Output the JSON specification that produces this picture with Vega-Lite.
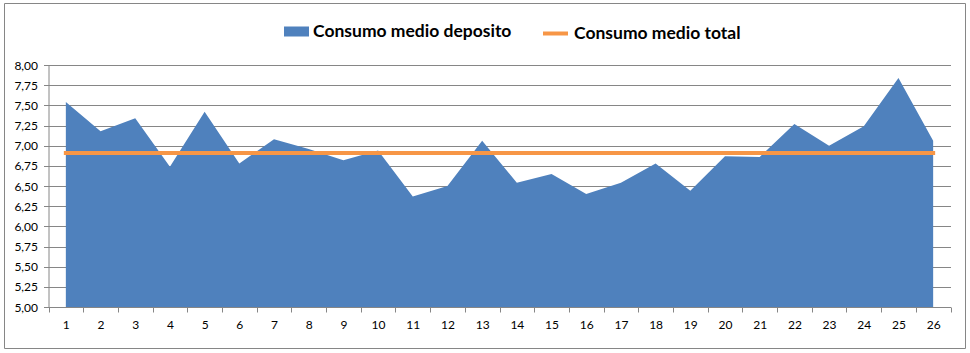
{
  "$schema": "https://vega.github.io/schema/vega-lite/v6.json",
  "autosize": {"type": "none"},
  "padding": {"left": 4, "top": 3, "right": 5, "bottom": 5},
  "width": 961,
  "height": 345,
  "background": "white",
  "data": {"values": [
    {"n": 1, "deposito": 7.54, "total": 6.91},
    {"n": 2, "deposito": 7.18, "total": 6.91},
    {"n": 3, "deposito": 7.34, "total": 6.91},
    {"n": 4, "deposito": 6.74, "total": 6.91},
    {"n": 5, "deposito": 7.42, "total": 6.91},
    {"n": 6, "deposito": 6.78, "total": 6.91},
    {"n": 7, "deposito": 7.08, "total": 6.91},
    {"n": 8, "deposito": 6.96, "total": 6.91},
    {"n": 9, "deposito": 6.82, "total": 6.91},
    {"n": 10, "deposito": 6.94, "total": 6.91},
    {"n": 11, "deposito": 6.37, "total": 6.91},
    {"n": 12, "deposito": 6.50, "total": 6.91},
    {"n": 13, "deposito": 7.06, "total": 6.91},
    {"n": 14, "deposito": 6.54, "total": 6.91},
    {"n": 15, "deposito": 6.65, "total": 6.91},
    {"n": 16, "deposito": 6.40, "total": 6.91},
    {"n": 17, "deposito": 6.54, "total": 6.91},
    {"n": 18, "deposito": 6.78, "total": 6.91},
    {"n": 19, "deposito": 6.44, "total": 6.91},
    {"n": 20, "deposito": 6.87, "total": 6.91},
    {"n": 21, "deposito": 6.86, "total": 6.91},
    {"n": 22, "deposito": 7.27, "total": 6.91},
    {"n": 23, "deposito": 7.00, "total": 6.91},
    {"n": 24, "deposito": 7.24, "total": 6.91},
    {"n": 25, "deposito": 7.84, "total": 6.91},
    {"n": 26, "deposito": 7.06, "total": 6.91}
  ]},
  "encoding": {
    "x": {
      "field": "n", "type": "ordinal", "bandPosition": 0.5,
      "scale": {"type": "band", "range": [44.5, 946.5], "paddingInner": 0, "paddingOuter": 0},
      "axis": {
        "title": null, "labelAngle": 0, "tickBand": "extent", "offset": -41,
        "domainColor": "#868686", "tickColor": "#868686", "tickSize": 5,
        "labelPadding": 7, "labelFont": "Lato", "labelFontSize": 12, "labelColor": "#000000", "grid": false
      }
    }
  },
  "layer": [
    {
      "mark": {"type": "area", "opacity": 1},
      "encoding": {
        "y": {
          "field": "deposito", "type": "quantitative",
          "scale": {"domain": [5, 8], "zero": false, "nice": false, "range": [304, 62]},
          "axis": {
            "title": null, "values": [5, 5.25, 5.5, 5.75, 6, 6.25, 6.5, 6.75, 7, 7.25, 7.5, 7.75, 8],
            "tickCount": 13, "format": ".2f", "offset": -44.5, "grid": true, "gridColor": "#868686", "gridOpacity": 1,
            "labelOverlap": false, "labelFlush": false,
            "domainColor": "#868686", "tickColor": "#868686", "tickSize": 5, "labelPadding": 6,
            "labelFont": "Lato", "labelFontSize": 12, "labelColor": "#000000"
          }
        },
        "y2": {"datum": 5},
        "fill": {
          "datum": "Consumo medio deposito",
          "scale": {"range": ["#4F81BD"]},
          "legend": {
            "title": null, "orient": "none", "legendX": 280, "legendY": 16, "padding": 0,
            "symbolType": "M-1,-0.4H1V0.4H-1Z", "symbolSize": 625, "symbolStrokeWidth": 0,
            "symbolOpacity": 1, "labelOffset": 4, "labelLimit": 400,
            "labelFont": "Lato", "labelFontSize": 17.5, "labelFontWeight": "bold", "labelColor": "#000000"
          }
        }
      }
    },
    {
      "mark": {"type": "line", "strokeWidth": 4, "strokeCap": "square"},
      "encoding": {
        "y": {
          "field": "total", "type": "quantitative",
          "scale": {"domain": [5, 8], "zero": false, "nice": false, "range": [304, 62]},
          "axis": {
            "title": null, "values": [5, 5.25, 5.5, 5.75, 6, 6.25, 6.5, 6.75, 7, 7.25, 7.5, 7.75, 8],
            "tickCount": 13, "format": ".2f", "offset": -44.5, "grid": true, "gridColor": "#868686", "gridOpacity": 1,
            "labelOverlap": false, "labelFlush": false,
            "domainColor": "#868686", "tickColor": "#868686", "tickSize": 5, "labelPadding": 6,
            "labelFont": "Lato", "labelFontSize": 12, "labelColor": "#000000"
          }
        },
        "stroke": {
          "datum": "Consumo medio total",
          "scale": {"range": ["#F79646"]},
          "legend": {
            "title": null, "orient": "none", "legendX": 537, "legendY": 16, "padding": 0,
            "symbolType": "stroke", "symbolSize": 625, "symbolStrokeWidth": 4,
            "labelOffset": 4, "labelLimit": 400,
            "labelFont": "Lato", "labelFontSize": 17.5, "labelFontWeight": "bold", "labelColor": "#000000"
          }
        }
      }
    }
  ],
  "config": {
    "locale": {"number": {"decimal": ",", "thousands": ".", "grouping": [3], "currency": ["", " €"]}},
    "view": {"stroke": "#868686", "strokeWidth": 1}
  }
}
